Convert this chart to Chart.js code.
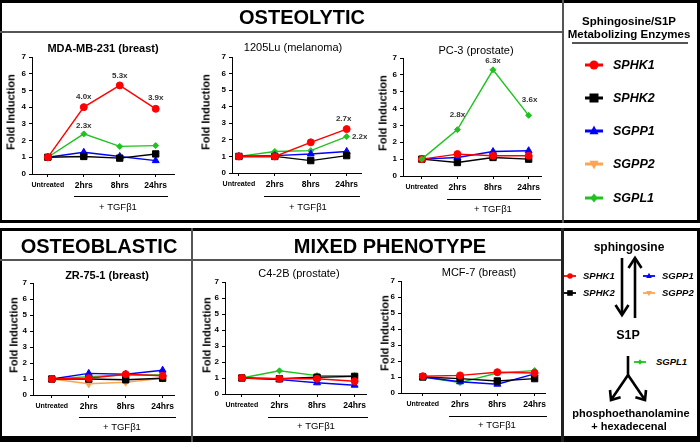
<!DOCTYPE html>
<html>
<head>
<meta charset="utf-8">
<script src="https://cdn.jsdelivr.net/npm/chart.js@4.4.0/dist/chart.umd.min.js"></script>
<style>
  html, body { margin: 0; padding: 0; background: #fff; }
  body { width: 700px; height: 442px; position: relative; overflow: hidden;
         font-family: "Liberation Sans", Arial, Helvetica, sans-serif; color: #000; }
  .box { position: absolute; box-sizing: border-box; }
  .txt { position: absolute; white-space: nowrap; transform: translate(-50%, -50%); line-height: 1;
         color: #000; filter: grayscale(1); }
  .ltxt { position: absolute; white-space: nowrap; transform: translateY(-50%); line-height: 1;
          font-weight: bold; font-style: italic; }
  canvas { position: absolute; }
  svg { position: absolute; left: 0; top: 0; }
</style>
</head>
<body>

<!-- frames -->
<div class="box" style="left:0;top:0;width:700px;height:223px;border:3px solid #000;border-left-width:2px;"></div>
<div class="box" style="left:0;top:31px;width:563px;height:1.5px;background:#555;"></div>
<div class="box" style="left:562px;top:0;width:1.5px;height:223px;background:#555;"></div>
<div class="box" style="left:572px;top:42px;width:116px;height:2px;background:#555;"></div>

<div class="box" style="left:0;top:228px;width:700px;height:214px;border:3px solid #000;border-left-width:2px;border-bottom-width:6px;"></div>
<div class="box" style="left:0;top:259px;width:563px;height:1.5px;background:#555;"></div>
<div class="box" style="left:191px;top:228px;width:1.5px;height:214px;background:#555;"></div>
<div class="box" style="left:561px;top:228px;width:2.5px;height:214px;background:#222;"></div>

<!-- headers -->
<div class="txt" style="left:302px;top:17px;font-size:20px;font-weight:bold;">OSTEOLYTIC</div>
<div class="txt" style="left:99px;top:246px;font-size:20px;font-weight:bold;">OSTEOBLASTIC</div>
<div class="txt" style="left:390px;top:246px;font-size:20px;font-weight:bold;">MIXED PHENOTYPE</div>

<!-- enzyme legend -->
<div class="txt" style="left:629px;top:22px;font-size:11.5px;font-weight:bold;">Sphingosine/S1P</div>
<div class="txt" style="left:629px;top:35px;font-size:11.5px;font-weight:bold;">Metabolizing Enzymes</div>

<!-- pathway diagram -->
<div class="txt" style="left:629px;top:247px;font-size:12px;font-weight:bold;">sphingosine</div>
<div class="txt" style="left:628px;top:335px;font-size:12.5px;font-weight:bold;">S1P</div>
<div class="txt" style="left:631px;top:413px;font-size:11px;font-weight:bold;">phosphoethanolamine</div>
<div class="txt" style="left:629px;top:426px;font-size:11px;font-weight:bold;">+ hexadecenal</div>

<svg id="marks" width="700" height="442"></svg>

<script>
// ---- data ----
const timepoints = ['Untreated', '2hrs', '8hrs', '24hrs'];
const foldTicks = [0, 1, 2, 3, 4, 5, 6, 7];
const enzymes = ['SPHK1', 'SPHK2', 'SGPP1', 'SGPP2', 'SGPL1'];

// fold induction, one array per enzyme
const mda231 = {
  SPHK1: [1.0, 4.0, 5.3, 3.9],
  SPHK2: [1.0, 1.05, 0.95, 1.2],
  SGPP1: [1.0, 1.3, 1.05, 0.8],
  SGPL1: [1.0, 2.4, 1.65, 1.7]
};
const lu1205 = {
  SPHK1: [1.0, 1.0, 1.85, 2.65],
  SPHK2: [1.0, 1.0, 0.75, 1.05],
  SGPP1: [1.0, 1.05, 1.15, 1.3],
  SGPL1: [1.0, 1.3, 1.35, 2.2]
};
const pc3 = {
  SPHK1: [1.0, 1.3, 1.2, 1.2],
  SPHK2: [1.0, 0.8, 1.1, 1.0],
  SGPP1: [1.0, 1.1, 1.45, 1.5],
  SGPL1: [1.0, 2.75, 6.3, 3.6]
};
const zr751 = {
  SPHK1: [1.0, 1.05, 1.3, 1.2],
  SPHK2: [1.0, 1.0, 0.95, 1.05],
  SGPP1: [1.0, 1.35, 1.3, 1.55],
  SGPP2: [1.0, 0.7, 0.8, 1.05],
  SGPL1: [1.0, 1.15, 1.25, 1.25]
};
const c42b = {
  SPHK1: [1.0, 0.95, 0.95, 0.8],
  SPHK2: [1.0, 0.95, 1.05, 1.1],
  SGPP1: [1.0, 0.9, 0.7, 0.55],
  SGPL1: [1.0, 1.45, 1.15, 1.15]
};
const mcf7 = {
  SPHK1: [1.05, 1.1, 1.3, 1.25],
  SPHK2: [1.0, 0.9, 0.75, 0.9],
  SGPP1: [1.0, 0.7, 0.55, 1.2],
  SGPL1: [1.0, 0.65, 1.25, 1.4]
};

// fold-change callouts: [enzyme, timepoint index, text]
const mda231Notes = [['SPHK1', 1, '4.0x'], ['SPHK1', 2, '5.3x'], ['SPHK1', 3, '3.9x'], ['SGPL1', 1, '2.3x']];
const lu1205Notes = [['SPHK1', 3, '2.7x'], ['SGPL1', 3, '2.2x']];
const pc3Notes = [['SGPL1', 1, '2.8x'], ['SGPL1', 2, '6.3x'], ['SGPL1', 3, '3.6x']];

// ---- styles ----
const FONT = '"Liberation Sans", Arial, Helvetica, sans-serif';
const enzymeStyle = {
  SPHK1: { color: '#ff0000', shape: 'circle', r: 3.5, rot: 0 },
  SPHK2: { color: '#000000', shape: 'rect', r: 4.5, rot: 0 },
  SGPP1: { color: '#0000ff', shape: 'triangle', r: 4, rot: 0 },
  SGPP2: { color: '#ffa54f', shape: 'triangle', r: 4, rot: 180 },
  SGPL1: { color: '#1fc21f', shape: 'rectRot', r: 3, rot: 0 }
};

const panels = [
  { title: 'MDA-MB-231 (breast)', bold: true, series: mda231, notes: mda231Notes,
    noteOffsets: [[0, -10], [0, -10], [0, -11], [0, -8]],
    axisX: 32, xEnd: 176, yTop: 57, yBot: 174, x0: 48, x3: 157,
    titleXY: [103, 48], foldXY: [11, 112], bracket: [74, 168, 196], tgfXY: [118, 207] },
  { title: '1205Lu (melanoma)', bold: false, series: lu1205, notes: lu1205Notes,
    noteOffsets: [[-3, -10], [13, 0]],
    axisX: 232, xEnd: 363, yTop: 57, yBot: 173, x0: 239, x3: 348,
    titleXY: [293, 47], foldXY: [206, 112], bracket: [264, 360, 196], tgfXY: [308, 207] },
  { title: 'PC-3 (prostate)', bold: false, series: pc3, notes: pc3Notes, top: 'SGPL1',
    noteOffsets: [[0, -15], [0, -9], [1, -16]],
    axisX: 403, xEnd: 543, yTop: 58, yBot: 176, x0: 422, x3: 530,
    titleXY: [476, 50], foldXY: [383, 113], bracket: [447, 541, 199], tgfXY: [493, 209] },
  { title: 'ZR-75-1 (breast)', bold: true, series: zr751, notes: [], noteOffsets: [],
    axisX: 33, xEnd: 176, yTop: 283, yBot: 395, x0: 52, x3: 164,
    titleXY: [107, 275], foldXY: [14, 335], bracket: [79, 176, 417], tgfXY: [122, 427] },
  { title: 'C4-2B (prostate)', bold: false, series: c42b, notes: [], noteOffsets: [],
    axisX: 225, xEnd: 368, yTop: 282, yBot: 394, x0: 242, x3: 356,
    titleXY: [299, 273], foldXY: [207, 335], bracket: [268, 368, 417], tgfXY: [316, 426] },
  { title: 'MCF-7 (breast)', bold: false, series: mcf7, notes: [], noteOffsets: [],
    axisX: 401, xEnd: 547, yTop: 281, yBot: 393, x0: 423, x3: 536,
    titleXY: [479, 272], foldXY: [385, 333], bracket: [449, 547, 416], tgfXY: [497, 425] }
];

function addText(x, y, text, css) {
  const d = document.createElement('div');
  d.className = 'txt';
  d.textContent = text;
  d.style.left = x + 'px';
  d.style.top = y + 'px';
  Object.assign(d.style, css || {});
  document.body.appendChild(d);
  return d;
}

const notePlugin = {
  id: 'notes',
  afterDatasetsDraw(chart) {
    const p = chart.config.options.plugins.notes;
    if (!p || !p.items.length) return;
    const ctx = chart.ctx;
    ctx.save();
    ctx.font = 'bold 8px ' + FONT;
    ctx.fillStyle = '#333';
    ctx.textAlign = 'center';
    ctx.textBaseline = 'middle';
    p.items.forEach((n, k) => {
      const dsIndex = chart.data.datasets.findIndex(d => d.label === n[0]);
      const pt = chart.getDatasetMeta(dsIndex).data[n[1]];
      const off = p.offsets[k];
      ctx.fillText(n[2], pt.x + off[0], pt.y + off[1]);
    });
    ctx.restore();
  }
};

function axisCommon() {
  return {
    grid: { display: true, drawOnChartArea: false, drawTicks: true, tickLength: 3, color: '#000', lineWidth: 1 },
    border: { display: true, color: '#000', width: 1 }
  };
}

function makeChart(g) {
  const padL = 24, padT = 8, padR = 4, padB = 22;
  const w = g.xEnd - g.axisX + padL + padR;
  const h = g.yBot - g.yTop + padT + padB;
  const cv = document.createElement('canvas');
  cv.width = w; cv.height = h;
  cv.style.left = (g.axisX - padL) + 'px';
  cv.style.top = (g.yTop - padT) + 'px';
  cv.style.width = w + 'px'; cv.style.height = h + 'px';
  document.body.appendChild(cv);

  const step = (g.x3 - g.x0) / 3;
  const xMin = -(g.x0 - g.axisX) / step;
  const xMax = 3 + (g.xEnd - g.x3) / step;

  const datasets = enzymes.filter(e => g.series[e]).map(e => {
    const st = enzymeStyle[e];
    return {
      label: e,
      data: g.series[e].map((v, i) => ({ x: i, y: v })),
      borderColor: st.color,
      backgroundColor: st.color,
      borderWidth: 1.4,
      pointStyle: st.shape,
      pointRadius: st.r,
      pointRotation: st.rot,
      pointBorderWidth: 1,
      pointBorderColor: st.color,
      pointBackgroundColor: st.color,
      order: e === g.top ? -1 : 0,
      tension: 0
    };
  });

  new Chart(cv, {
    type: 'line',
    data: { datasets },
    plugins: [notePlugin],
    options: {
      responsive: false,
      animation: false,
      events: [],
      layout: { padding: { top: padT, right: padR, left: 0, bottom: 0 } },
      plugins: {
        legend: { display: false },
        tooltip: { enabled: false },
        notes: { items: g.notes, offsets: g.noteOffsets }
      },
      scales: {
        x: Object.assign(axisCommon(), {
          type: 'linear', min: xMin, max: xMax,
          afterBuildTicks: sc => { sc.ticks = timepoints.map((_, i) => ({ value: i })); },
          afterFit: sc => { sc.height = padB; },
          ticks: {
            autoSkip: false, maxRotation: 0, padding: 4, color: '#000',
            font: c => ({ family: FONT, size: c.index === 0 ? 7 : 8.5, weight: 'bold' }),
            callback: v => timepoints[v]
          }
        }),
        y: Object.assign(axisCommon(), {
          type: 'linear', min: 0, max: 7,
          afterBuildTicks: sc => { sc.ticks = foldTicks.map(v => ({ value: v })); },
          afterFit: sc => { sc.width = padL; },
          ticks: { padding: 3, color: '#000', font: { family: FONT, size: 8, weight: 'bold' } }
        })
      }
    }
  });

  addText(g.titleXY[0], g.titleXY[1], g.title, { fontSize: '11px', fontWeight: g.bold ? 'bold' : 'normal' });
  addText(g.foldXY[0], g.foldXY[1], 'Fold Induction',
    { fontSize: '11px', fontWeight: 'bold', transform: 'translate(-50%, -50%) rotate(-90deg)' });
  const br = document.createElement('div');
  br.className = 'box';
  Object.assign(br.style, { left: g.bracket[0] + 'px', top: g.bracket[2] + 'px',
    width: (g.bracket[1] - g.bracket[0]) + 'px', height: '1.3px', background: '#000' });
  document.body.appendChild(br);
  addText(g.tgfXY[0], g.tgfXY[1], '+ TGF\u03B21', { fontSize: '9.5px' });
}

panels.forEach(makeChart);

// ---- legend markers and pathway arrows ----
const svg = document.getElementById('marks');
const NS = 'http://www.w3.org/2000/svg';
function el(tag, attrs) {
  const e = document.createElementNS(NS, tag);
  for (const k in attrs) e.setAttribute(k, attrs[k]);
  svg.appendChild(e);
  return e;
}
function marker(e, cx, cy, s, x1, x2, lw) {
  const c = enzymeStyle[e].color;
  el('line', { x1, y1: cy, x2, y2: cy, stroke: c, 'stroke-width': lw });
  if (e === 'SPHK1') el('circle', { cx, cy, r: s, fill: c });
  if (e === 'SPHK2') el('rect', { x: cx - s, y: cy - s, width: 2 * s, height: 2 * s, fill: c });
  if (e === 'SGPP1') el('polygon', { points: `${cx},${cy - s * 1.2} ${cx - s},${cy + s * 0.7} ${cx + s},${cy + s * 0.7}`, fill: c });
  if (e === 'SGPP2') el('polygon', { points: `${cx},${cy + s * 1.2} ${cx - s},${cy - s * 0.7} ${cx + s},${cy - s * 0.7}`, fill: c });
  if (e === 'SGPL1') el('polygon', { points: `${cx},${cy - s} ${cx + s * 0.8},${cy} ${cx},${cy + s} ${cx - s * 0.8},${cy}`, fill: c });
}
function ltext(x, y, t, size) {
  const d = document.createElement('div');
  d.className = 'ltxt';
  d.textContent = t;
  d.style.left = x + 'px';
  d.style.top = y + 'px';
  d.style.fontSize = size + 'px';
  document.body.appendChild(d);
}

const legendY = [65, 98, 131, 164, 198];
enzymes.forEach((e, i) => {
  marker(e, 594, legendY[i], 4.5, 585, 603, 3);
  ltext(613, legendY[i], e, 12.5);
});

const mini = [['SPHK1', 570, 276, 583], ['SPHK2', 570, 293, 583], ['SGPP1', 649, 276, 662],
              ['SGPP2', 649, 293, 662], ['SGPL1', 640, 362, 656]];
mini.forEach(m => {
  marker(m[0], m[1], m[2], 2.8, m[1] - 6, m[1] + 6, 1.8);
  ltext(m[3], m[2], m[0], 9.5);
});

const arrowStyle = { stroke: '#000', 'stroke-width': 2.6, fill: 'none', 'stroke-linejoin': 'miter' };
[
  'M622,258 L622,314', 'M615.5,305 L622,315 L628.5,305',
  'M635,318 L635,259', 'M628.5,268 L635,258 L641.5,268',
  'M628,356 L628,375 L611,400', 'M628,375 L645,400',
  'M620.6,397.3 L611,400 L610,390', 'M635.4,397.3 L645,400 L646,390'
].forEach(d => el('path', Object.assign({ d }, arrowStyle)));
</script>
</body>
</html>
